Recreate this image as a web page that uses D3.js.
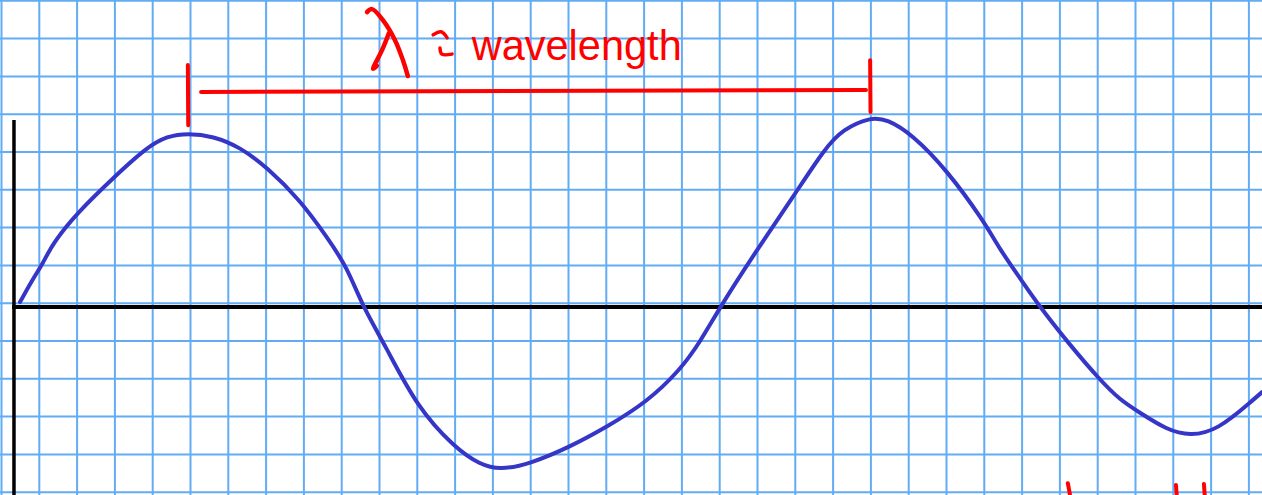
<!DOCTYPE html>
<html>
<head>
<meta charset="utf-8">
<script src="https://cdn.jsdelivr.net/npm/d3@7"></script>
<style>
  html, body { margin: 0; padding: 0; background: #fff; overflow: hidden; }
  svg { display: block; }
</style>
</head>
<body>
<div class="chart"></div>
<script>
// Wave, in grid squares (x from left grid line, y up from the axis)
const waveX = [0.49, 0.81, 1.10, 1.36, 2.00, 2.95, 3.85, 4.38, 4.93, 5.60, 6.31, 7.02, 7.90, 8.61, 9.14, 9.56,
  10.15, 10.99, 12.00, 12.66, 13.19, 13.98, 15.04, 16.02, 17.08, 17.95, 18.48, 19.01, 19.93, 20.94, 21.79,
  22.26, 22.98, 23.43, 24.11, 25.01, 25.97, 26.42, 26.94, 27.47, 28.27, 29.06, 29.59, 30.12, 30.83, 31.44,
  32.16, 33.11, 33.35];
const waveY = [0.13, 0.71, 1.16, 1.69, 2.49, 3.41, 4.23, 4.52, 4.60, 4.52, 4.23, 3.70, 2.83, 1.85, 1.06, 0,
  -1.01, -2.65, -3.73, -4.17, -4.31, -4.15, -3.70, -3.17, -2.51, -1.67, -0.93, 0, 1.43, 2.91, 4.21,
  4.70, 5.02, 4.97, 4.55, 3.62, 2.30, 1.51, 0.77, 0, -1.01, -1.93, -2.46, -2.80, -3.25, -3.41,
  -3.27, -2.46, -2.25];

// Wavelength bracket, peak to peak
const peakLeft = 4.93;
const peakRight = 22.98;
const labelText = "wavelength";

const width = 1262, height = 495;
const cell = 37.8;
const x = d3.scaleLinear().domain([0, 1]).range([1.5, 1.5 + cell]);
const y = d3.scaleLinear().domain([0, 1]).range([307, 307 - cell]);

const svg = d3.select(".chart").append("svg")
  .attr("width", width)
  .attr("height", height);

// graph paper
const gx = d3.range(0, 34);
const gy = d3.range(-5, 9).map(k => k + 0.1);
svg.append("g").selectAll("line").data(gx).join("line")
  .attr("x1", d => x(d)).attr("x2", d => x(d))
  .attr("y1", 0).attr("y2", height)
  .attr("stroke", "#62acf5").attr("stroke-width", 2);
svg.append("g").selectAll("line").data(gy).join("line")
  .attr("x1", 0).attr("x2", width)
  .attr("y1", d => y(d)).attr("y2", d => y(d))
  .attr("stroke", "#62acf5").attr("stroke-width", 2);

// axes
svg.append("line")
  .attr("x1", x(0.33)).attr("x2", x(0.33))
  .attr("y1", y(4.95)).attr("y2", height)
  .attr("stroke", "#000").attr("stroke-width", 3.5);
svg.append("line")
  .attr("x1", x(0.28)).attr("x2", width)
  .attr("y1", y(0)).attr("y2", y(0))
  .attr("stroke", "#000").attr("stroke-width", 4);

// wave
const wave = d3.line()
  .x(d => x(d[0]))
  .y(d => y(d[1]))
  .curve(d3.curveBasis);
svg.append("path")
  .datum(waveX.map((v, i) => [v, waveY[i]]))
  .attr("d", wave)
  .attr("fill", "none")
  .attr("stroke", "#3535c8")
  .attr("stroke-width", 4)
  .attr("stroke-linecap", "round");

// red annotations
const red = "#ff0000";
const pen = d3.line()
  .x(d => x(d[0]))
  .y(d => y(d[1]))
  .curve(d3.curveCatmullRom.alpha(0.5));
const stroke = (pts, w = 4) => svg.append("path")
  .datum(pts)
  .attr("d", pen)
  .attr("fill", "none")
  .attr("stroke", red)
  .attr("stroke-width", w)
  .attr("stroke-linecap", "round")
  .attr("stroke-linejoin", "round");

stroke([[peakLeft, 6.40], [peakLeft + 0.01, 4.81]]);
stroke([[peakLeft + 0.35, 5.69], [peakRight - 0.11, 5.74]]);
stroke([[peakRight, 6.53], [peakRight + 0.01, 5.16]]);

// hand-drawn lambda and "="
stroke([[9.67, 7.80], [9.80, 7.88], [10.09, 7.59], [10.41, 7.06], [10.62, 6.53], [10.75, 6.11]], 4.5);
stroke([[10.25, 7.25], [10.07, 6.80], [9.83, 6.30], [9.93, 6.38]], 4.5);
stroke([[11.42, 7.20], [11.63, 7.28], [11.79, 7.12]], 3.5);
stroke([[11.60, 6.85], [11.65, 6.69], [11.92, 6.69]], 3.5);

svg.append("text")
  .attr("x", x(12.44))
  .attr("y", y(6.53))
  .attr("fill", red)
  .attr("font-family", "Liberation Sans, Arial, sans-serif")
  .attr("font-size", 43)
  .attr("textLength", 210)
  .attr("lengthAdjust", "spacingAndGlyphs")
  .text(labelText);

// marks cut off at the bottom edge
stroke([[28.21, -4.66], [28.29, -5.1]]);
stroke([[31.07, -4.71], [31.10, -5.1]]);
stroke([[31.81, -4.68], [31.84, -5.1]]);
</script>
</body>
</html>
